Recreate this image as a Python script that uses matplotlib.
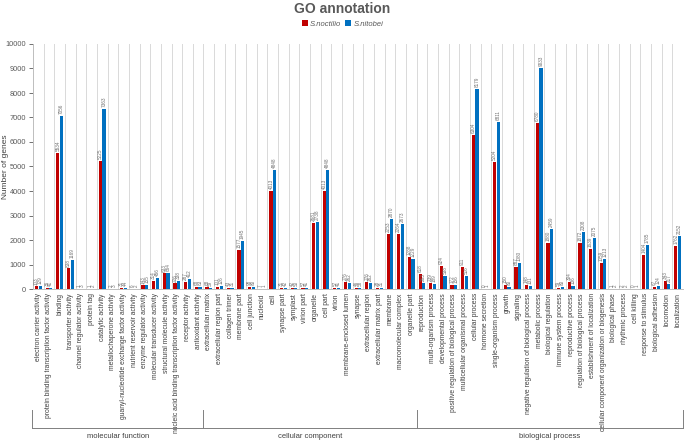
import matplotlib
matplotlib.use("Agg")
import matplotlib.pyplot as plt
import numpy as np

categories = [
    "electron carrier activity", "protein binding transcription factor activity", "binding",
    "transporter activity", "channel regulator activity", "protein tag", "catalytic activity",
    "metallochaperone activity", "guanyl-nucleotide exchange factor activity",
    "nutrient reservoir activity", "enzyme regulator activity", "molecular transducer activity",
    "structural molecule activity", "nucleic acid binding transcription factor activity",
    "receptor activity", "antioxidant activity",
    "extracellular matrix", "extracellular region part", "collagen trimer", "membrane part",
    "cell junction", "nucleoid", "cell", "synapse part", "symplast", "virion part", "organelle",
    "cell part", "virion", "membrane-enclosed lumen", "synapse", "extracellular region",
    "extracellular matrix part", "membrane", "macromolecular complex", "organelle part",
    "reproduction", "multi-organism process", "developmental process",
    "positive regulation of biological process", "multicellular organismal process",
    "cellular process", "hormone secretion", "single-organism process", "growth", "signaling",
    "negative regulation of biological process", "metabolic process", "biological regulation",
    "immune system process", "reproductive process", "regulation of biological process",
    "establishment of localization", "cellular component organization or biogenesis",
    "biological phase", "rhythmic process", "cell killing", "response to stimulus",
    "biological adhesion", "locomotion", "localization",
]

noctilio = [
    103, 36, 5534, 838, 1, 1, 5225, 2, 31, 6, 143, 314, 633, 226, 287, 68,
    68, 101, 43, 1577, 98, 7, 4013, 31, 42, 57, 2681, 4013, 57, 276, 46, 276, 28, 2253, 2264, 1288,
    618, 239, 924, 172, 911, 6304, 0, 5204, 150, 887, 148, 6780, 1880, 59, 304, 1872, 1639, 1059,
    1, 2, 0, 1404, 67, 343, 1762,
]
nitobei = [
    129, 41, 7056, 1169, 3, 2, 7363, 3, 44, 2, 155, 456, 664, 338, 412, 83,
    59, 126, 31, 1945, 80, 1, 4848, 42, 50, 41, 2738, 4848, 41, 262, 58, 262, 31, 2870, 2673, 1229,
    263, 189, 538, 156, 516, 8179, 1, 6811, 80, 1080, 131, 9033, 2459, 80, 136, 2308, 2075, 1213,
    2, 2, 1, 1785, 124, 217, 2152,
]
group_names = ["molecular function", "cellular component", "biological process"]
group_sizes = [16, 20, 25]

series_names = ["S.noctilio", "S.nitobei"]
colors = ["#C00000", "#0070C0"]

plt.rcParams['font.family'] = ['Liberation Sans', 'DejaVu Sans']

fig = plt.figure(figsize=(6.85, 4.45), dpi=100)
L, R = 33 / 685, 683 / 685
B, T = 1 - 289 / 445, 1 - 44 / 445
ax = fig.add_axes([L, B, R - L, T - B])

n = len(categories)
x = np.arange(n)
w = 0.3
off = 0.17
b1 = ax.bar(x - off, noctilio, width=w, color=colors[0], label=series_names[0], zorder=3)
b2 = ax.bar(x + off, nitobei, width=w, color=colors[1], label=series_names[1], zorder=3)

for bars, vals in ((b1, noctilio), (b2, nitobei)):
    for rect, v in zip(bars, vals):
        ax.text(rect.get_x() + rect.get_width() / 2, v + 80, str(v), rotation=90,
                ha='center', va='bottom', fontsize=3.3, color='#707070')

ax.set_xlim(-0.5, n - 0.5)
ax.set_ylim(0, 10000)
ax.set_yticks(np.arange(0, 10001, 1000))
ax.tick_params(axis='y', labelsize=5.3, colors='#595959', length=3, width=0.6, pad=2)
ax.set_xticks(x)
ax.set_xticklabels(categories, rotation=90, fontsize=4.9, color='#404040')
ax.tick_params(axis='x', length=0, pad=3)

for i in range(n + 1):
    ax.axvline(i - 0.5, color='#d9d9d9', lw=0.7, zorder=1)

for s in ['top', 'right']:
    ax.spines[s].set_visible(False)
ax.spines['left'].set_color('#bfbfbf')
ax.spines['left'].set_linewidth(0.7)
ax.spines['bottom'].set_color('#bfbfbf')
ax.spines['bottom'].set_linewidth(0.7)

ax.set_ylabel("Number of genes", fontsize=6, color='#404040')
ax.yaxis.set_label_coords(-24 / 650, 0.5)

fig.text(0.5, 1 - 9 / 445, "GO annotation", ha='center', va='center', fontsize=10,
         fontweight='bold', color='#595959')
leg = fig.legend(handles=[b1, b2], labels=series_names, loc='center', bbox_to_anchor=(0.5, 1 - 24 / 445),
                 ncol=2, frameon=False, handlelength=0.8, handleheight=0.8,
                 handletextpad=0.3, columnspacing=0.5, prop={'style': 'italic', 'size': 5.5})
for t in leg.get_texts():
    t.set_color('#595959')

# group brackets
edges = np.concatenate([[0], np.cumsum(group_sizes)]) - 0.5
def xfig(v):
    return L + (v + 0.5) / n * (R - L)
y_line = 1 - 428 / 445
y_top = 1 - 410 / 445
xs = [32 / 685] + [xfig(e) for e in edges[1:-1]] + [683 / 685]
fig.add_artist(plt.Line2D([xs[0], xs[-1]], [y_line, y_line], transform=fig.transFigure,
                          color='#808080', lw=0.7))
for xv in xs:
    fig.add_artist(plt.Line2D([xv, xv], [y_line, y_top], transform=fig.transFigure,
                              color='#808080', lw=0.7))
for i, name in enumerate(group_names):
    fig.text((xs[i] + xs[i + 1]) / 2, 1 - 437 / 445, name, ha='center', va='center',
             fontsize=5.5, color='#404040')

fig.savefig("out.png", dpi=100)
